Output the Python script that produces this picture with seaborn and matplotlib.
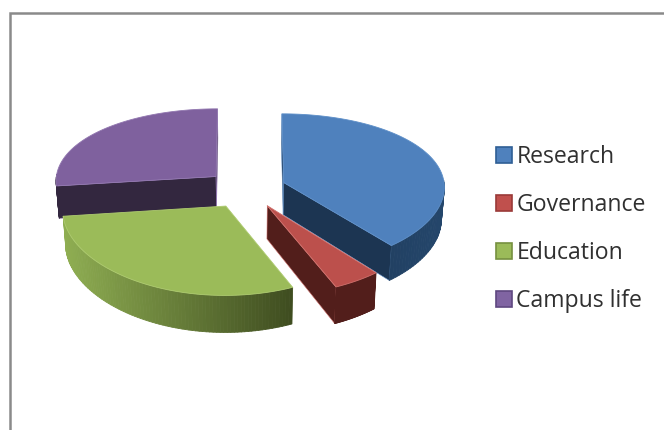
import numpy as np
import matplotlib
matplotlib.use("Agg")
import matplotlib.pyplot as plt
from matplotlib.collections import PolyCollection
from matplotlib.colors import to_rgb
from matplotlib.patches import Patch, Polygon
import seaborn as sns

# Share of activity per area, in percent, clockwise from twelve o'clock
categories = ["Research", "Governance", "Education", "Campus life"]
shares = [39, 4.5, 29.5, 27]

top_colors = sns.color_palette(["#4F81BD", "#BC504C", "#9BBB59", "#7F619E"])
wall_near = ["#1C3552", "#521E1B", "#8FAE52", "#33273F"]
wall_far = ["#24466B", "#521E1B", "#3F4D20", "#33273F"]
edge_colors = ["#5E8FC8", "#D0706C", "#AECB70", "#9277B0"]
legend_faces = ["#4F81BD", "#C0504D", "#9BBB59", "#8064A2"]
legend_edges = ["#2F5F95", "#9A3A38", "#769040", "#5F4880"]
draw_order = [3, 0, 1, 2]

# Projection of the tilted disc onto the canvas, in pixels
CX, CY = 246.0, 189.0
RX, RY = 161.0, 76.8
TILT_X, TILT_Y = 0.05, 0.10
DEPTH = 32.5
TAPER = 0.985
EXPLODE = 0.25


def project(x, y, lower=False):
    sx = RX * x / (1.0 + TILT_X * y)
    py = 1.0 / (1.0 + TILT_Y * y)
    sy = -RY * y * py
    if lower:
        return CX + TAPER * sx, CY + sy + DEPTH * py
    return CX + sx, CY + sy


def quad(x0, y0, x1, y1):
    a, b = project(x0, y0), project(x1, y1)
    c, d = project(x1, y1, True), project(x0, y0, True)
    return [a, b, c, d]


def draw_slice(ax, start, end, i, z):
    mid = 0.5 * (start + end)
    ox, oy = EXPLODE * np.sin(mid), EXPLODE * np.cos(mid)
    theta = np.linspace(start, end, 90)
    rim_x, rim_y = ox + np.sin(theta), oy + np.cos(theta)
    near, far = np.array(to_rgb(wall_near[i])), np.array(to_rgb(wall_far[i]))

    # Radial walls are seen only when the slice body lies above their top edge
    apex = project(ox, oy)
    inner = project(ox + 0.5 * np.sin(mid), oy + 0.5 * np.cos(mid))
    for k in (0, -1):
        rim = project(rim_x[k], rim_y[k])
        dx = rim[0] - apex[0]
        if abs(dx) < 1.0:
            continue
        line_y = apex[1] + (rim[1] - apex[1]) * (inner[0] - apex[0]) / dx
        if inner[1] < line_y:
            ax.add_patch(Polygon(quad(ox, oy, rim_x[k], rim_y[k]), closed=True,
                                 fc=wall_near[i], ec=edge_colors[i], lw=0.4, zorder=z))

    # Outer curved wall, shaded along its length
    quads, shades = [], []
    xs = [project(x, y)[0] for x, y in zip(rim_x, rim_y)]
    left, right = min(xs), max(xs)
    for j in range(len(theta) - 1):
        if np.cos(0.5 * (theta[j] + theta[j + 1])) > 0.02:
            continue
        q = quad(rim_x[j], rim_y[j], rim_x[j + 1], rim_y[j + 1])
        t = (q[0][0] - left) / max(right - left, 1.0)
        quads.append(q)
        shades.append(tuple(near + (far - near) * t))
    if quads:
        ax.add_collection(PolyCollection(quads, facecolors=shades, edgecolors=shades,
                                         linewidths=0.6, zorder=z + 0.1))

    # Top face
    pts = [apex] + [project(x, y) for x, y in zip(rim_x, rim_y)]
    ax.add_patch(Polygon(pts, closed=True, fc=top_colors[i], ec=edge_colors[i],
                         lw=0.6, joinstyle="round", zorder=z + 0.2))


sns.set_theme(style="white")
plt.rcParams["font.family"] = ["Open Sans", "DejaVu Sans"]

fig = plt.figure(figsize=(6.64, 4.30), dpi=100)
ax = fig.add_axes([0, 0, 1, 1])
ax.set_xlim(0, 664)
ax.set_ylim(430, 0)
ax.axis("off")

# Chart frame, open on the right and at the bottom
ax.plot([10, 10, 664], [430, 12.5, 12.5], color="#8A8A8A", lw=1.8,
        solid_joinstyle="miter", zorder=1)

bounds = np.r_[0, np.cumsum(shares)] / np.sum(shares) * 2 * np.pi
for z, i in enumerate(draw_order):
    draw_slice(ax, bounds[i], bounds[i + 1], i, 2 + z)

handles = [Patch(facecolor=f, edgecolor=e, linewidth=1.2, label=c)
           for f, e, c in zip(legend_faces, legend_edges, categories)]
ax.legend(handles=handles, loc="center left", bbox_to_anchor=(496 / 664, 1 - 229 / 430),
          frameon=False, fontsize=16.6, labelcolor="#303030",
          handlelength=0.68, handleheight=0.68, handletextpad=0.2,
          labelspacing=1.05, borderpad=0, borderaxespad=0)

fig.savefig("out.png", dpi=100)
